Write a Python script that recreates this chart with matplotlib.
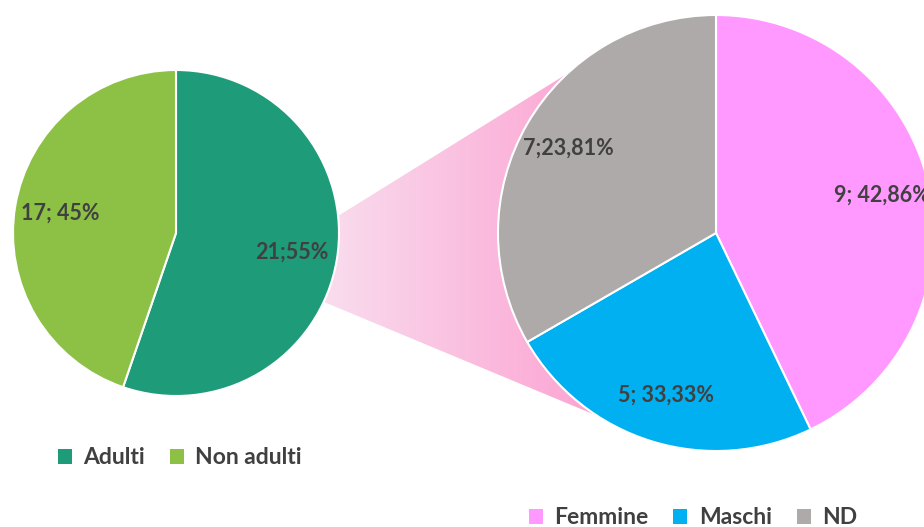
"""Pie-of-pie: adults vs non adults, with the adult slice broken down by sex."""

import numpy as np
import matplotlib
matplotlib.use("Agg")
import matplotlib.pyplot as plt
from matplotlib.path import Path
from matplotlib.patches import PathPatch
from matplotlib.colors import LinearSegmentedColormap

# data
main_labels = ["Adulti", "Non adulti"]
main_values = [21, 17]
main_texts = ["21;55%", "17; 45%"]
main_colors = ["#1E9B78", "#8DC145"]

sub_labels = ["Femmine", "Maschi", "ND"]
sub_values = [9, 5, 7]
sub_texts = ["9; 42,86%", "5; 33,33%", "7;23,81%"]  # as printed in the original
sub_colors = ["#FF99FF", "#00B0F0", "#AEAAAA"]

W, H = 924, 527
TXT = "#404040"
plt.rcParams["font.family"] = ["Lato", "DejaVu Sans"]

fig = plt.figure(figsize=(W / 100, H / 100), dpi=100)
ax = fig.add_axes([0, 0, 1, 1])

c1, r1 = (176, 294), 163
c2, r2 = (716, 294), 218

# gradient connector between the two pies (drawn first, sits behind)
def on_circle(c, r, deg):
    a = np.radians(deg)
    return (c[0] + r * np.cos(a), c[1] + r * np.sin(a))

poly = [on_circle(c1, r1, 6), on_circle(c2, r2, 133),
        on_circle(c2, r2, 237), on_circle(c1, r1, -25)]
clip = PathPatch(Path(poly + [poly[0]], closed=True), facecolor="none",
                 edgecolor="none")
ax.add_patch(clip)
cmap = LinearSegmentedColormap.from_list("conn", ["#F9DDEE", "#FCA3D2"])
xs = [p[0] for p in poly]
ys = [p[1] for p in poly]
grad = np.linspace(0, 1, 256)[None, :]
im = ax.imshow(grad, cmap=cmap, extent=(min(xs), max(xs), min(ys), max(ys)),
               aspect="auto", zorder=0.5, origin="lower")
im.set_clip_path(clip)

wp = dict(edgecolor="white", linewidth=1.5)
tp = dict(color=TXT, fontsize=15.5, fontweight="bold")

w1, t1 = ax.pie(main_values, labels=main_texts, colors=main_colors,
                startangle=90, counterclock=False, center=c1, radius=r1,
                labeldistance=0.72, wedgeprops=wp, textprops=tp, frame=True)
w2, t2 = ax.pie(sub_values, labels=sub_texts, colors=sub_colors,
                startangle=90, counterclock=False, center=c2, radius=r2,
                labeldistance=0.78, wedgeprops=wp, textprops=tp, frame=True)
for t in t1 + t2:
    t.set_ha("center")
    t.set_va("center")
for w in w1 + w2:
    w.set_zorder(1)

ax.set_xlim(0, W)
ax.set_ylim(0, H)
ax.set_aspect("equal")
ax.axis("off")

leg_kw = dict(frameon=False, loc="center", bbox_transform=ax.transData,
              handlelength=0.6, handleheight=0.6, handletextpad=0.5,
              columnspacing=1.1, prop=dict(size=16.5, weight="bold"),
              labelcolor=TXT)
leg1 = ax.legend(w1, main_labels, ncol=2, bbox_to_anchor=(180, 69), **leg_kw)
for h in leg1.legend_handles:
    h.set_edgecolor("none")
ax.add_artist(leg1)
leg2 = ax.legend(w2, sub_labels, ncol=3, bbox_to_anchor=(693, 9), **leg_kw)
for h in leg2.legend_handles:
    h.set_edgecolor("none")

fig.savefig("out.png", dpi=100)
